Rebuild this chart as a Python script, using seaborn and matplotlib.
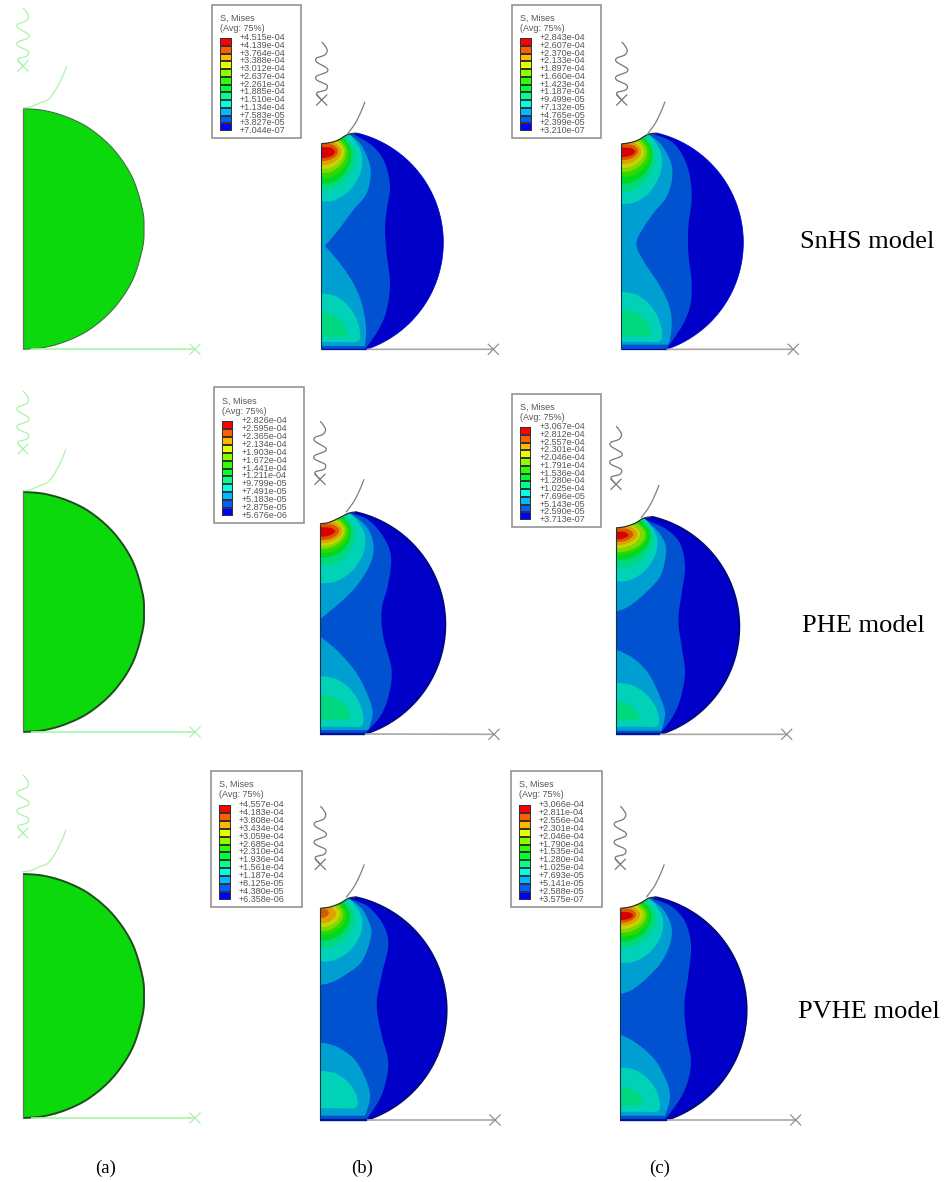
import numpy as np
import seaborn as sns
import matplotlib.pyplot as plt
from matplotlib.colors import ListedColormap, BoundaryNorm
from matplotlib.patches import Polygon, Rectangle

W, H = 946, 1182

# band colours, highest stress first
contour_colors = ['#d80000', '#dc5500', '#dca000', '#c8d400', '#80d800', '#30d800',
                  '#00d820', '#00d880', '#00d2b8', '#009fd2', '#0052d0', '#0000c8']
legend_colors = ['#ff0000', '#ff5d00', '#ffb900', '#e8ff00', '#8bff00', '#2eff00',
                 '#00ff2e', '#00ff8b', '#00ffe8', '#00b9ff', '#005dff', '#0000ff']

# legend readings
legend_b1 = ['+4.515e-04', '+4.139e-04', '+3.764e-04', '+3.388e-04', '+3.012e-04', '+2.637e-04', '+2.261e-04',
             '+1.885e-04', '+1.510e-04', '+1.134e-04', '+7.583e-05', '+3.827e-05', '+7.044e-07']
legend_c1 = ['+2.843e-04', '+2.607e-04', '+2.370e-04', '+2.133e-04', '+1.897e-04', '+1.660e-04', '+1.423e-04',
             '+1.187e-04', '+9.499e-05', '+7.132e-05', '+4.765e-05', '+2.399e-05', '+3.210e-07']
legend_b2 = ['+2.826e-04', '+2.595e-04', '+2.365e-04', '+2.134e-04', '+1.903e-04', '+1.672e-04', '+1.441e-04',
             '+1.211e-04', '+9.799e-05', '+7.491e-05', '+5.183e-05', '+2.875e-05', '+5.676e-06']
legend_c2 = ['+3.067e-04', '+2.812e-04', '+2.557e-04', '+2.301e-04', '+2.046e-04', '+1.791e-04', '+1.536e-04',
             '+1.280e-04', '+1.025e-04', '+7.696e-05', '+5.143e-05', '+2.590e-05', '+3.713e-07']
legend_b3 = ['+4.557e-04', '+4.183e-04', '+3.808e-04', '+3.434e-04', '+3.059e-04', '+2.685e-04', '+2.310e-04',
             '+1.936e-04', '+1.561e-04', '+1.187e-04', '+8.125e-05', '+4.380e-05', '+6.358e-06']
legend_c3 = ['+3.066e-04', '+2.811e-04', '+2.556e-04', '+2.301e-04', '+2.046e-04', '+1.790e-04', '+1.535e-04',
             '+1.280e-04', '+1.025e-04', '+7.693e-05', '+5.141e-05', '+2.588e-05', '+3.575e-07']

# legend boxes: left, top, right, bottom
box_b1 = (212.3, 5, 301.3, 138.3)
box_c1 = (512.3, 5, 601.3, 138.3)
box_b2 = (214, 387.3, 304, 523.3)
box_c2 = (512, 394, 600.7, 527.3)
box_b3 = (211.3, 771, 302.3, 907.3)
box_c3 = (511.3, 771, 602.3, 907.3)

# contour boundaries read off 3x crops: crop origin, then crop coordinates
# contact = dented part of the rim, rim = circle centre x, y, radius, then flat bottom y
origin_b1 = (210, 0)
contact_b1 = [(334,431),(360,428),(385,420),(410,405),(430,400),(445,400)]
rim_b1 = (362, 727.7, 338, 1048)
mid_b1 = [(430,402),(490,440),(525,490),(540,560),(530,630),(525,690),(530,760),(540,850),(530,930),(505,990),(465,1048)]
light_b1 = [[(415,402),(450,430),(475,480),(482,520),(470,580),(430,630),(385,690),(345,738),(345,738),(390,790),
             (430,850),(455,910),(468,980),(465,1038)]]

origin_c1 = (505, 0)
contact_c1 = [(349,432),(375,428),(400,420),(425,405),(445,400),(460,400)]
rim_c1 = (377, 727.7, 338, 1048)
mid_c1 = [(445,402),(500,425),(535,470),(555,530),(560,600),(550,680),(550,760),(560,850),(555,920),(530,980),(485,1046)]
light_c1 = [[(430,405),(465,430),(495,480),(502,530),(485,590),(445,640),(405,700),(395,740),(420,790),(460,850),
             (490,910),(500,960),(495,1020),(485,1034)]]

origin_b2 = (210, 380)
contact_b2 = [(331,431),(355,428),(385,415),(415,400),(435,396)]
rim_b2 = (361, 733, 345.1, 1062)
mid_b2 = [(420,398),(475,420),(520,470),(543,530),(535,610),(515,690),(520,770),(545,870),(535,950),(510,1010),(465,1060)]
light_b2 = [[(420,400),(465,435),(488,480),(488,530),(460,590),(410,650),(331,717)],
            [(331,770),(385,815),(440,880),(475,950),(488,1000),(475,1050)]]

origin_c2 = (505, 380)
contact_c2 = [(333,444),(360,440),(390,430),(415,415),(440,410)]
rim_c2 = (364.7, 739.9, 338.3, 1063)
mid_c2 = [(415,418),(480,445),(525,490),(540,560),(530,640),(520,720),(530,800),(540,880),(525,960),(500,1015),(465,1060)]
light_c2 = [[(415,418),(455,450),(480,490),(482,530),(465,590),(420,640),(370,680),(333,695)],
            [(333,808),(385,835),(430,880),(465,950),(480,1000),(470,1052)]]

origin_b3 = (205, 765)
contact_b3 = [(346,430),(375,426),(405,415),(430,400),(450,396)]
rim_b3 = (378.3, 735.2, 346.7, 1065)
mid_b3 = [(430,400),(490,425),(535,480),(550,540),(530,630),(515,720),(530,810),(550,890),(540,960),(520,1010),(485,1063)]
light_b3 = [[(432,402),(470,430),(495,480),(497,520),(470,590),(420,630),(380,652),(346,660)],
            [(346,832),(395,845),(450,885),(485,950),(495,1000),(480,1052)]]

origin_c3 = (505, 765)
contact_c3 = contact_b3
rim_c3 = rim_b3
mid_c3 = [(445,402),(500,425),(540,470),(558,540),(550,630),(538,720),(545,810),(558,890),(545,960),(520,1010),(480,1063)]
light_c3 = [[(432,402),(472,430),(498,480),(497,530),(470,590),(425,640),(380,675),(346,687)],
            [(346,808),(395,835),(450,885),(485,950),(495,1000),(480,1052)]]

# hot lobes under the contact, red to teal (pixels): lower end on the axis, right reach
lobe_bottom_b1 = [158, 161, 165, 169, 173, 178, 184, 190, 201.7]
lobe_right_b1 = [335, 338, 341, 344, 346, 349, 351, 355, 362]
lobe_bottom_c1 = [157, 160, 164, 168, 172, 177, 184, 192, 204]
lobe_right_c1 = [635, 638, 641, 644, 647, 650, 652, 655, 661.7]
lobe_bottom_b2 = [536.7, 540, 543, 546, 549, 553, 558, 566, 583.3]
lobe_right_b2 = [335, 339, 342, 344, 346, 349, 351, 355, 365]
lobe_bottom_c2 = [539.3, 542, 545, 548, 552, 555, 560, 568, 581.7]
lobe_right_c2 = [628.3, 633, 637, 640, 645, 647, 650, 653, 657]
lobe_bottom_b3 = [None, 918, 923, 927, 931, 935, 940.7, 948.3, 961.7]
lobe_right_b3 = [None, 328.7, 336, 340, 343, 346, 350, 354, 362]
lobe_bottom_c3 = [920, 922.7, 925.7, 929, 932.7, 936.7, 941.7, 948, 963]
lobe_right_c3 = [633, 636, 640, 643, 646, 649, 651, 656, 663]
lobe_top_offset = [4, 1, -1, -3, -5, -6, -8, -9, -10]

# lower lobes: band index, top on axis, right reach, bottom
lower_b1 = [(8, 293.3, 360, 342), (7, 312.7, 346.7, 337)]
lower_c1 = [(8, 291.7, 662, 341.7), (7, 310, 650.7, 336)]
lower_b2 = [(8, 676, 363.3, 726.7), (7, 695, 350, 720)]
lower_c2 = [(8, 682.7, 659, 726.7), (7, 701.7, 639, 720)]
lower_b3 = [(8, 1070.7, 357.7, 1108.3)]
lower_c3 = [(8, 1067.3, 660, 1111.7), (7, 1086.7, 642.7, 1105.7)]

# shape of the lobes, in units of reach and height
top_u = [-0.2, 0, 0.34, 0.71, 0.96, 1, 0.88, 0.67, 0.3, -0.2]
top_v = [0, 0, 0.025, 0.175, 0.425, 0.675, 0.85, 1, 1.05, 1.05]
low_u = [-0.2, 0, 0.4, 0.74, 0.95, 1, 0.9, 0.5, -0.2]
low_v = [1, 1, 0.93, 0.7, 0.39, 0.1, 0, 0, 0]

# spring and rigid surface, offsets from the X end / tip (pixels)
spring_dx = [0, 2, 5.5, 3, -5, -5, 5, 5, -5, -5, 5, 4, -5, 0]
spring_dy = [-58, -56, -50, -45, -42, -38, -32, -28, -24, -20, -15, -10, -7, 0]
rigid_dx = [-44, -35, -27, -18, -10, -4, 0]
rigid_dy = [42, 40.5, 37, 33, 22, 10, 0]

# panel a: one semicircle, scaled by row
semi_x = [0, 61, 131, 201, 271, 326, 356, 361, 356, 326, 271, 201, 131, 61, 0]
semi_y = [0, 5, 25, 61, 123, 206, 301, 361, 421, 516, 599, 661, 697, 717, 722]
a_left = 23
a_top = [108.7, 492, 874]
a_bottom = [349.3, 732, 1118]
a_spring = [66, 449, 833]
a_tip_x = [66.7, 66, 66]
a_tip_y = [66, 449, 830]
a_end = [195, 195, 195]

row_names = ['SnHS model', 'PHE model', 'PVHE model']
row_label_x = [800, 802, 798]
row_label_y = [242, 626, 1012]
col_names = ['(a)', '(b)', '(c)']
col_label_x = [106, 362, 660]
col_label_y = 1168


def spline(pts, n=10):
    # Catmull-Rom through the points
    p = np.asarray(pts, dtype=float)
    p = np.vstack([p[0], p, p[-1]])
    out = []
    for i in range(1, len(p) - 2):
        t = np.linspace(0, 1, n, endpoint=False)[:, None]
        a, b, c, d = p[i - 1], p[i], p[i + 1], p[i + 2]
        out.append(0.5 * (2 * b + (c - a) * t + (2 * a - 5 * b + 4 * c - d) * t ** 2 + (3 * b - a - 3 * c + d) * t ** 3))
    out.append(p[-2][None, :])
    return np.vstack(out)


def crop(pts, origin):
    return [(origin[0] + x / 3, origin[1] + y / 3) for x, y in pts]


def line(ax, xs, ys, color, lw=1.0):
    sns.lineplot(x=list(xs), y=list(ys), sort=False, estimator=None, color=color, linewidth=lw, ax=ax, legend=False,
                 solid_capstyle='butt')


def x_mark(ax, cx, cy, color, lw=0.9, arm=5.5):
    line(ax, [cx - arm, cx + arm], [cy - arm, cy + arm], color, lw)
    line(ax, [cx - arm, cx + arm], [cy + arm, cy - arm], color, lw)


def spring(ax, cx, cy, color):
    p = spline(np.column_stack([cx + np.array(spring_dx), cy + np.array(spring_dy)]))
    line(ax, p[:, 0], p[:, 1], color, 0.9)
    x_mark(ax, cx, cy, color)


def rigid(ax, tx, ty, color, start=0):
    p = spline(np.column_stack([tx + np.array(rigid_dx[start:]), ty + np.array(rigid_dy[start:])]))
    line(ax, p[:, 0], p[:, 1], color, 0.9)


def clipped_fill(ax, pts, color, clip):
    patch = ax.fill(pts[:, 0], pts[:, 1], color=color, linewidth=0)[0]
    patch.set_clip_path(clip)


def contour_panel(ax, origin, contact, rim, mid, light, bottoms, rights, lower, spring_xy, tip, end, edge, strip):
    dent = spline(crop(contact, origin))
    cx, cy, r, yflat = rim
    start = np.arctan2(contact[-1][1] - cy, contact[-1][0] - cx)
    stop = np.arcsin((yflat - cy) / r)
    ang = np.linspace(start, stop, 120)
    round_part = np.column_stack([origin[0] + (cx + r * np.cos(ang)) / 3, origin[1] + (cy + r * np.sin(ang)) / 3])
    arc = np.vstack([dent, round_part])
    x0, ytop = arc[0]
    ybot = arc[-1, 1]
    body = np.vstack([arc, [(x0, ybot)]])
    clip = Polygon(body, closed=True, facecolor=contour_colors[11], edgecolor='none', zorder=1)
    ax.add_patch(clip)

    # mid blue covers everything left of its boundary
    m = spline(crop(mid, origin))
    clipped_fill(ax, np.vstack([m, [(x0 - 10, ybot + 5), (x0 - 10, ytop - 30), (m[0, 0], ytop - 30)]]), contour_colors[10], clip)

    # light blue: joined band or separate top and lower lobes
    for i, part in enumerate(light):
        s = spline(crop(part, origin))
        if i == 0:
            ends = [(x0 - 10, s[-1, 1]), (x0 - 10, ytop - 30), (s[0, 0], ytop - 30)]
        else:
            ends = [(x0 - 10, s[-1, 1]), (x0 - 10, s[0, 1])]
        clipped_fill(ax, np.vstack([s, ends]), contour_colors[9], clip)

    for band, yt, xr, yb in lower:
        p = np.column_stack([x0 + np.array(low_u) * (xr - x0), yb - np.array(low_v) * (yb - yt)])
        clipped_fill(ax, spline(p), contour_colors[band], clip)

    for band in range(8, -1, -1):
        if bottoms[band] is None:
            continue
        yt = ytop + lobe_top_offset[band]
        p = np.column_stack([x0 + np.array(top_u) * (rights[band] - x0), bottoms[band] - np.array(top_v) * (bottoms[band] - yt)])
        clipped_fill(ax, spline(p), contour_colors[band], clip)

    line(ax, round_part[:, 0], round_part[:, 1], edge, strip)
    line(ax, [x0, x0], [ytop, ybot], '#0b3a4a', 0.8)
    line(ax, [x0, arc[-1, 0]], [ybot, ybot], '#00109a', strip + 0.4)
    line(ax, dent[:, 0], dent[:, 1], '#303030', 0.9)
    line(ax, [arc[-1, 0], end[0]], [ybot, end[1]], '#a8a8a8', 1.2)
    x_mark(ax, end[0], end[1], '#909090')
    spring(ax, spring_xy[0], spring_xy[1], '#777777')
    rigid(ax, tip[0], tip[1], '#808080', start=3)


def legend_box(fig, ax, box, labels):
    left, top, right, bottom = box
    scale = (bottom - top) / 133.3
    ax.add_patch(Rectangle((left, top), right - left, bottom - top, facecolor='white', edgecolor='#8a8a8a', linewidth=1.1, zorder=3))
    ax.text(left + 7.7, top + 13.3 * scale, 'S, Mises', fontsize=6.5, color='#555555', va='center', zorder=4)
    ax.text(left + 7.7, top + 23.3 * scale, '(Avg: 75%)', fontsize=6.5, color='#555555', va='center', zorder=4)
    bar_top = top + 33.3 * scale
    bar_bot = top + 126 * scale
    bar_w = 11.7

    values = np.array([float(v) for v in labels])
    levels = values[::-1]
    mids = ((values[:-1] + values[1:]) / 2).reshape(-1, 1)
    cax = fig.add_axes([(left + 7.7) / W, 1 - bar_bot / H, bar_w / W, (bar_bot - bar_top) / H], zorder=5)
    sns.heatmap(mids, cmap=ListedColormap(legend_colors[::-1]), norm=BoundaryNorm(levels, 12), cbar=False,
                xticklabels=False, yticklabels=False, linewidths=0.2, linecolor='#333333', ax=cax)

    step = (bar_bot - bar_top) / 12
    for i, lab in enumerate(labels):
        y = bar_top + i * step
        line(ax, [left + 7.7 + bar_w, left + 7.7 + bar_w + 3.5], [y, y], '#555555', 0.6)
        ax.text(left + 27.7, y - 0.5, lab, fontsize=6.5, color='#555555', va='center', zorder=4)


sns.set_theme(style='white')
plt.rcParams['font.family'] = ['Liberation Sans', 'DejaVu Sans']

fig = plt.figure(figsize=(W / 100, H / 100), dpi=100)
ax = fig.add_axes([0, 0, 1, 1])
ax.set_xlim(0, W)
ax.set_ylim(H, 0)
ax.set_autoscale_on(False)
ax.axis('off')

# column (a): undeformed
for i in range(3):
    sx = a_left + np.array(semi_x) * (121 / 361)
    sy = a_top[i] + np.array(semi_y) / 722 * (a_bottom[i] - a_top[i])
    arc = spline(np.column_stack([sx, sy]))
    ax.fill(arc[:, 0], arc[:, 1], color='#0bd90b', linewidth=0, zorder=1)
    line(ax, arc[:, 0], arc[:, 1], '#3f6f3f' if i == 0 else '#1d4d1d', 0.8 if i == 0 else 1.4)
    line(ax, [a_left, a_left], [a_top[i], a_bottom[i]], '#6a6a6a', 0.9)
    line(ax, [a_left + 8, a_end[i]], [a_bottom[i], a_bottom[i]], '#a8f5a8', 1.2)
    x_mark(ax, a_end[i], a_bottom[i], '#a8f5a8')
    spring(ax, a_left, a_spring[i], '#a8f5a8')
    rigid(ax, a_tip_x[i], a_tip_y[i], '#a8f5a8')

# columns (b) and (c): contour plots
contour_panel(ax, origin_b1, contact_b1, rim_b1, mid_b1, light_b1, lobe_bottom_b1, lobe_right_b1, lower_b1,
              (321.7, 100), (365, 101.7), (493.3, 349.3), contour_colors[11], 0.5)
contour_panel(ax, origin_c1, contact_c1, rim_c1, mid_c1, light_c1, lobe_bottom_c1, lobe_right_c1, lower_c1,
              (621.7, 100), (665, 101.7), (793.3, 349.3), contour_colors[11], 0.5)
contour_panel(ax, origin_b2, contact_b2, rim_b2, mid_b2, light_b2, lobe_bottom_b2, lobe_right_b2, lower_b2,
              (320, 479.3), (364, 479.3), (494, 734.3), '#000a78', 1.3)
contour_panel(ax, origin_c2, contact_c2, rim_c2, mid_c2, light_c2, lobe_bottom_c2, lobe_right_c2, lower_c2,
              (616, 484.3), (659, 485), (786.7, 734.3), '#000a78', 1.3)
contour_panel(ax, origin_b3, contact_b3, rim_b3, mid_b3, light_b3, lobe_bottom_b3, lobe_right_b3, lower_b3,
              (320.3, 864.3), (364.3, 864.3), (495, 1120), '#000a78', 1.3)
contour_panel(ax, origin_c3, contact_c3, rim_c3, mid_c3, light_c3, lobe_bottom_c3, lobe_right_c3, lower_c3,
              (620.3, 864.3), (664.3, 864.3), (795.7, 1120), '#000a78', 1.3)

for box, labels in [(box_b1, legend_b1), (box_c1, legend_c1), (box_b2, legend_b2),
                    (box_c2, legend_c2), (box_b3, legend_b3), (box_c3, legend_c3)]:
    legend_box(fig, ax, box, labels)

for name, x, y in zip(row_names, row_label_x, row_label_y):
    ax.text(x, y, name, family='Liberation Serif', fontsize=19, color='black', va='center', ha='left')
for name, x in zip(col_names, col_label_x):
    ax.text(x, col_label_y, name, family='Liberation Serif', fontsize=13.5, color='black', va='center', ha='center')

fig.savefig('out.png', dpi=100)
